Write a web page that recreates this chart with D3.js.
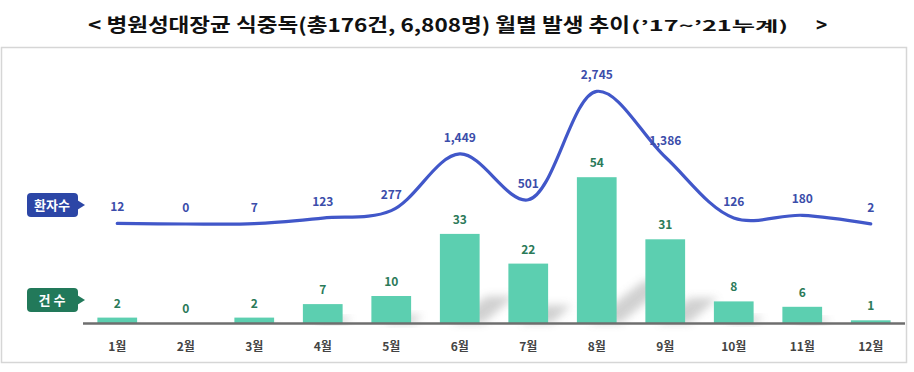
<!DOCTYPE html>
<html>
<head>
<meta charset="utf-8">
<script src="https://cdn.jsdelivr.net/npm/d3@7"></script>
<style>
  body { margin: 0; background: #fff; }
  text { font-family: "Noto Sans CJK KR", "Noto Sans", sans-serif; }
</style>
</head>
<body>
<svg id="chart" width="914" height="372"></svg>
<script>
// data
var months = ["1월", "2월", "3월", "4월", "5월", "6월", "7월", "8월", "9월", "10월", "11월", "12월"];
var caseCounts = [2, 0, 2, 7, 10, 33, 22, 54, 31, 8, 6, 1];
var patientCounts = [12, 0, 7, 123, 277, 1449, 501, 2745, 1386, 126, 180, 2];

var svg = d3.select("#chart");

var BarColor = "#5ccfb0";
var LineColor = "#4157c9";
var CaseLabelColor = "#2b7a59";
var PatientLabelColor = "#3b4daa";

// frame
svg.append("rect")
    .attr("x", 1.5).attr("y", 47.5)
    .attr("width", 905).attr("height", 315)
    .attr("fill", "#fff")
    .attr("stroke", "#d6d6d6")
    .attr("stroke-width", 1.5);

// title
var title = svg.append("g");
title.append("text")
    .attr("x", 88).attr("y", 32)
    .attr("font-size", 19).attr("font-weight", 700).attr("fill", "#111")
    .attr("textLength", 542).attr("lengthAdjust", "spacingAndGlyphs")
    .text("< 병원성대장균 식중독(총176건, 6,808명) 월별 발생 추이");
title.append("text")
    .attr("x", 631).attr("y", 31)
    .attr("font-size", 14).attr("font-weight", 700).attr("fill", "#111")
    .attr("textLength", 157).attr("lengthAdjust", "spacingAndGlyphs")
    .text("(’17~’21누계)");
title.append("text")
    .attr("x", 816).attr("y", 32)
    .attr("font-size", 19).attr("font-weight", 700).attr("fill", "#111")
    .text(">");

// scales
var x = d3.scaleBand().domain(months).range([83, 905]).paddingInner(0.42).paddingOuter(0.21);
var yBar = d3.scaleLinear().domain([0, 60]).range([323, 161]);
var yLine = d3.scaleLinear().domain([0, 3000]).range([224, 79]);

var defs = svg.append("defs");
defs.append("filter").attr("id", "blur")
    .attr("x", "-50%").attr("y", "-50%").attr("width", "200%").attr("height", "200%")
    .append("feGaussianBlur").attr("stdDeviation", 4);

// bar shadows
svg.append("g").selectAll("polygon")
    .data(caseCounts)
    .join("polygon")
    .attr("points", function(d, i) {
        var x0 = x(months[i]), w = x.bandwidth();
        var h = yBar(0) - yBar(d);
        var sh = Math.min(h * 0.3, 42);
        var dx = sh * 1.3;
        var b = yBar(0);
        return [[x0 + w * 0.3, b], [x0 + w + 4, b], [x0 + w + dx, b - sh], [x0 + w * 0.3 + dx, b - sh]].join(" ");
    })
    .attr("fill", "#999")
    .attr("opacity", 0.45)
    .attr("filter", "url(#blur)");

// bars
svg.append("g").selectAll("rect")
    .data(caseCounts)
    .join("rect")
    .attr("x", function(d, i) { return x(months[i]); })
    .attr("y", function(d) { return yBar(d) - (d > 0 ? 0 : 0); })
    .attr("width", x.bandwidth())
    .attr("height", function(d) { return yBar(0) - yBar(d); })
    .attr("fill", BarColor);

// axis baseline
svg.append("line")
    .attr("x1", 83).attr("x2", 905)
    .attr("y1", 323.5).attr("y2", 323.5)
    .attr("stroke", "#6e6e6e").attr("stroke-width", 2.5);

// month labels
var xAxis = d3.axisBottom(x).tickSize(0).tickPadding(0);
var axisG = svg.append("g").attr("transform", "translate(0,340)").call(xAxis);
axisG.select(".domain").remove();
axisG.selectAll("text")
    .attr("font-size", 12).attr("font-weight", 700).attr("fill", "#444")
    .attr("dy", "0.9em")
    .attr("font-family", "\"Noto Sans CJK KR\", sans-serif");

// bar labels
svg.append("g").selectAll("text")
    .data(caseCounts)
    .join("text")
    .attr("x", function(d, i) { return x(months[i]) + x.bandwidth() / 2; })
    .attr("y", function(d) { return yBar(d) - 10; })
    .attr("text-anchor", "middle")
    .attr("font-size", 12).attr("font-weight", 700)
    .attr("fill", CaseLabelColor)
    .text(function(d) { return d; });

// patient line
var line = d3.line()
    .x(function(d, i) { return x(months[i]) + x.bandwidth() / 2; })
    .y(function(d) { return yLine(d); })
    .curve(d3.curveCatmullRom.alpha(0.5));

svg.append("path")
    .datum(patientCounts)
    .attr("d", line)
    .attr("fill", "none")
    .attr("stroke", LineColor)
    .attr("stroke-width", 3.2)
    .attr("stroke-linecap", "round");

// patient labels
svg.append("g").selectAll("text")
    .data(patientCounts)
    .join("text")
    .attr("x", function(d, i) { return x(months[i]) + x.bandwidth() / 2; })
    .attr("y", function(d) { return yLine(d) - 12; })
    .attr("text-anchor", "middle")
    .attr("font-size", 12).attr("font-weight", 700)
    .attr("fill", PatientLabelColor)
    .text(function(d) { return d3.format(",")(d); });

// badges
function Badge(y, label, fill) {
    var g = svg.append("g");
    g.append("rect")
        .attr("x", 27).attr("y", y)
        .attr("width", 51).attr("height", 24)
        .attr("rx", 4)
        .attr("fill", fill);
    g.append("path")
        .attr("d", "M77," + (y + 7) + " L85," + (y + 12) + " L77," + (y + 17) + " Z")
        .attr("fill", fill);
    g.append("text")
        .attr("x", 52).attr("y", y + 17)
        .attr("text-anchor", "middle")
        .attr("font-size", 13).attr("font-weight", 700)
        .attr("fill", "#fff")
        .text(label);
}
Badge(193, "환자수", "#2c46a6");
Badge(288, "건 수", "#22795a");
</script>
</body>
</html>
